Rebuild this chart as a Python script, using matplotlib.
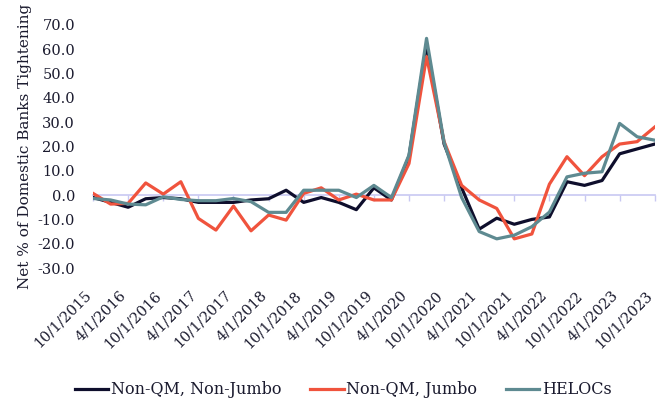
import matplotlib
matplotlib.use("Agg")
import matplotlib.pyplot as plt
from matplotlib.transforms import ScaledTranslation

# quarterly survey dates, 10/1/2015 .. 10/1/2023
dates = []
for yr in range(2015, 2024):
    for mo in (1, 4, 7, 10):
        if (yr == 2015 and mo < 10) or (yr == 2023 and mo > 10):
            continue
        dates.append(f"{mo}/1/{yr}")

non_qm_non_jumbo = [-1, -3, -5, -1.5, -1, -1.5, -3, -3, -3, -2, -1.5, 2, -3, -1, -3, -6,
                    3, -2, 16, 62, 21, 3, -14, -9.5, -12, -10, -9, 5.5, 4, 6, 17, 19, 21]
non_qm_jumbo = [0.7, -3.7, -3.4, 5, 0.4, 5.5, -9.6, -14.4, -4.5, -14.7, -8.2, -10.3, 0.7, 3, -2, 0.4,
                -2, -2, 13, 57, 22, 4, -2, -5.5, -18, -16, 4.5, 15.8, 8, 15.8, 21, 22, 28]
helocs = [-1.4, -2, -3.7, -4, -0.7, -1.8, -2.3, -2.3, -1.4, -2.7, -7.1, -7.1, 2, 2, 2, -1,
          4, -1, 16.5, 64.5, 21.7, -1, -15, -18, -16.5, -13, -7, 7.5, 9, 9.6, 29.5, 24, 22.6]

series = [
    ("Non-QM, Non-Jumbo", non_qm_non_jumbo, "#0e0e2c"),
    ("Non-QM, Jumbo", non_qm_jumbo, "#f0533d"),
    ("HELOCs", helocs, "#5e8a91"),
]
txt_col = "#1a1a2e"

plt.rcParams["font.family"] = "DejaVu Serif"
fig = plt.figure(figsize=(6.6, 4.0), dpi=100)
ax = fig.add_axes([0.141, 0.33, 0.851, 0.6075])

x = list(range(len(dates)))
for name, vals, col in series:
    ax.plot(x, vals, color=col, lw=2.3, label=name)

ax.set_xlim(0, len(dates) - 1)
ax.set_ylim(-30, 70)
ax.set_yticks(range(-30, 71, 10))
ax.set_yticklabels([f"{v:.1f}" for v in range(-30, 71, 10)], fontsize=10.5, color=txt_col)
ax.tick_params(axis="y", length=0, pad=13)
ax.set_ylabel("Net % of Domestic Banks Tightening", fontsize=11, color=txt_col, labelpad=4)

# category axis crossing at zero
for s in ("left", "right", "top"):
    ax.spines[s].set_visible(False)
ax.spines["bottom"].set_position(("data", 0))
ax.spines["bottom"].set_color("#c8c8f2")
ax.spines["bottom"].set_linewidth(1.2)
ax.spines["bottom"].set_zorder(0)
ax.set_xticks(x[::2])
ax.tick_params(axis="x", length=4, color="#c8c8f2", width=1.0, labelbottom=False)

# labels sit below the plot
sec = ax.secondary_xaxis("bottom")
sec.spines["bottom"].set_visible(False)
sec.set_xticks(x[::2])
sec.set_xticklabels(dates[::2], rotation=45, ha="right", va="center", rotation_mode="anchor",
                    fontsize=10.5, color=txt_col)
sec.tick_params(axis="x", length=0, pad=18)
shift = ScaledTranslation(-3 / 72, 0, fig.dpi_scale_trans)
for lbl in sec.get_xticklabels():
    lbl.set_transform(lbl.get_transform() + shift)

fig.legend(loc="center", bbox_to_anchor=(0.52, 0.025), ncol=3, frameon=False,
           fontsize=11.5, handlelength=2.1, handletextpad=0.15, columnspacing=1.8,
           labelcolor=txt_col)

fig.savefig("out.png", dpi=100)
